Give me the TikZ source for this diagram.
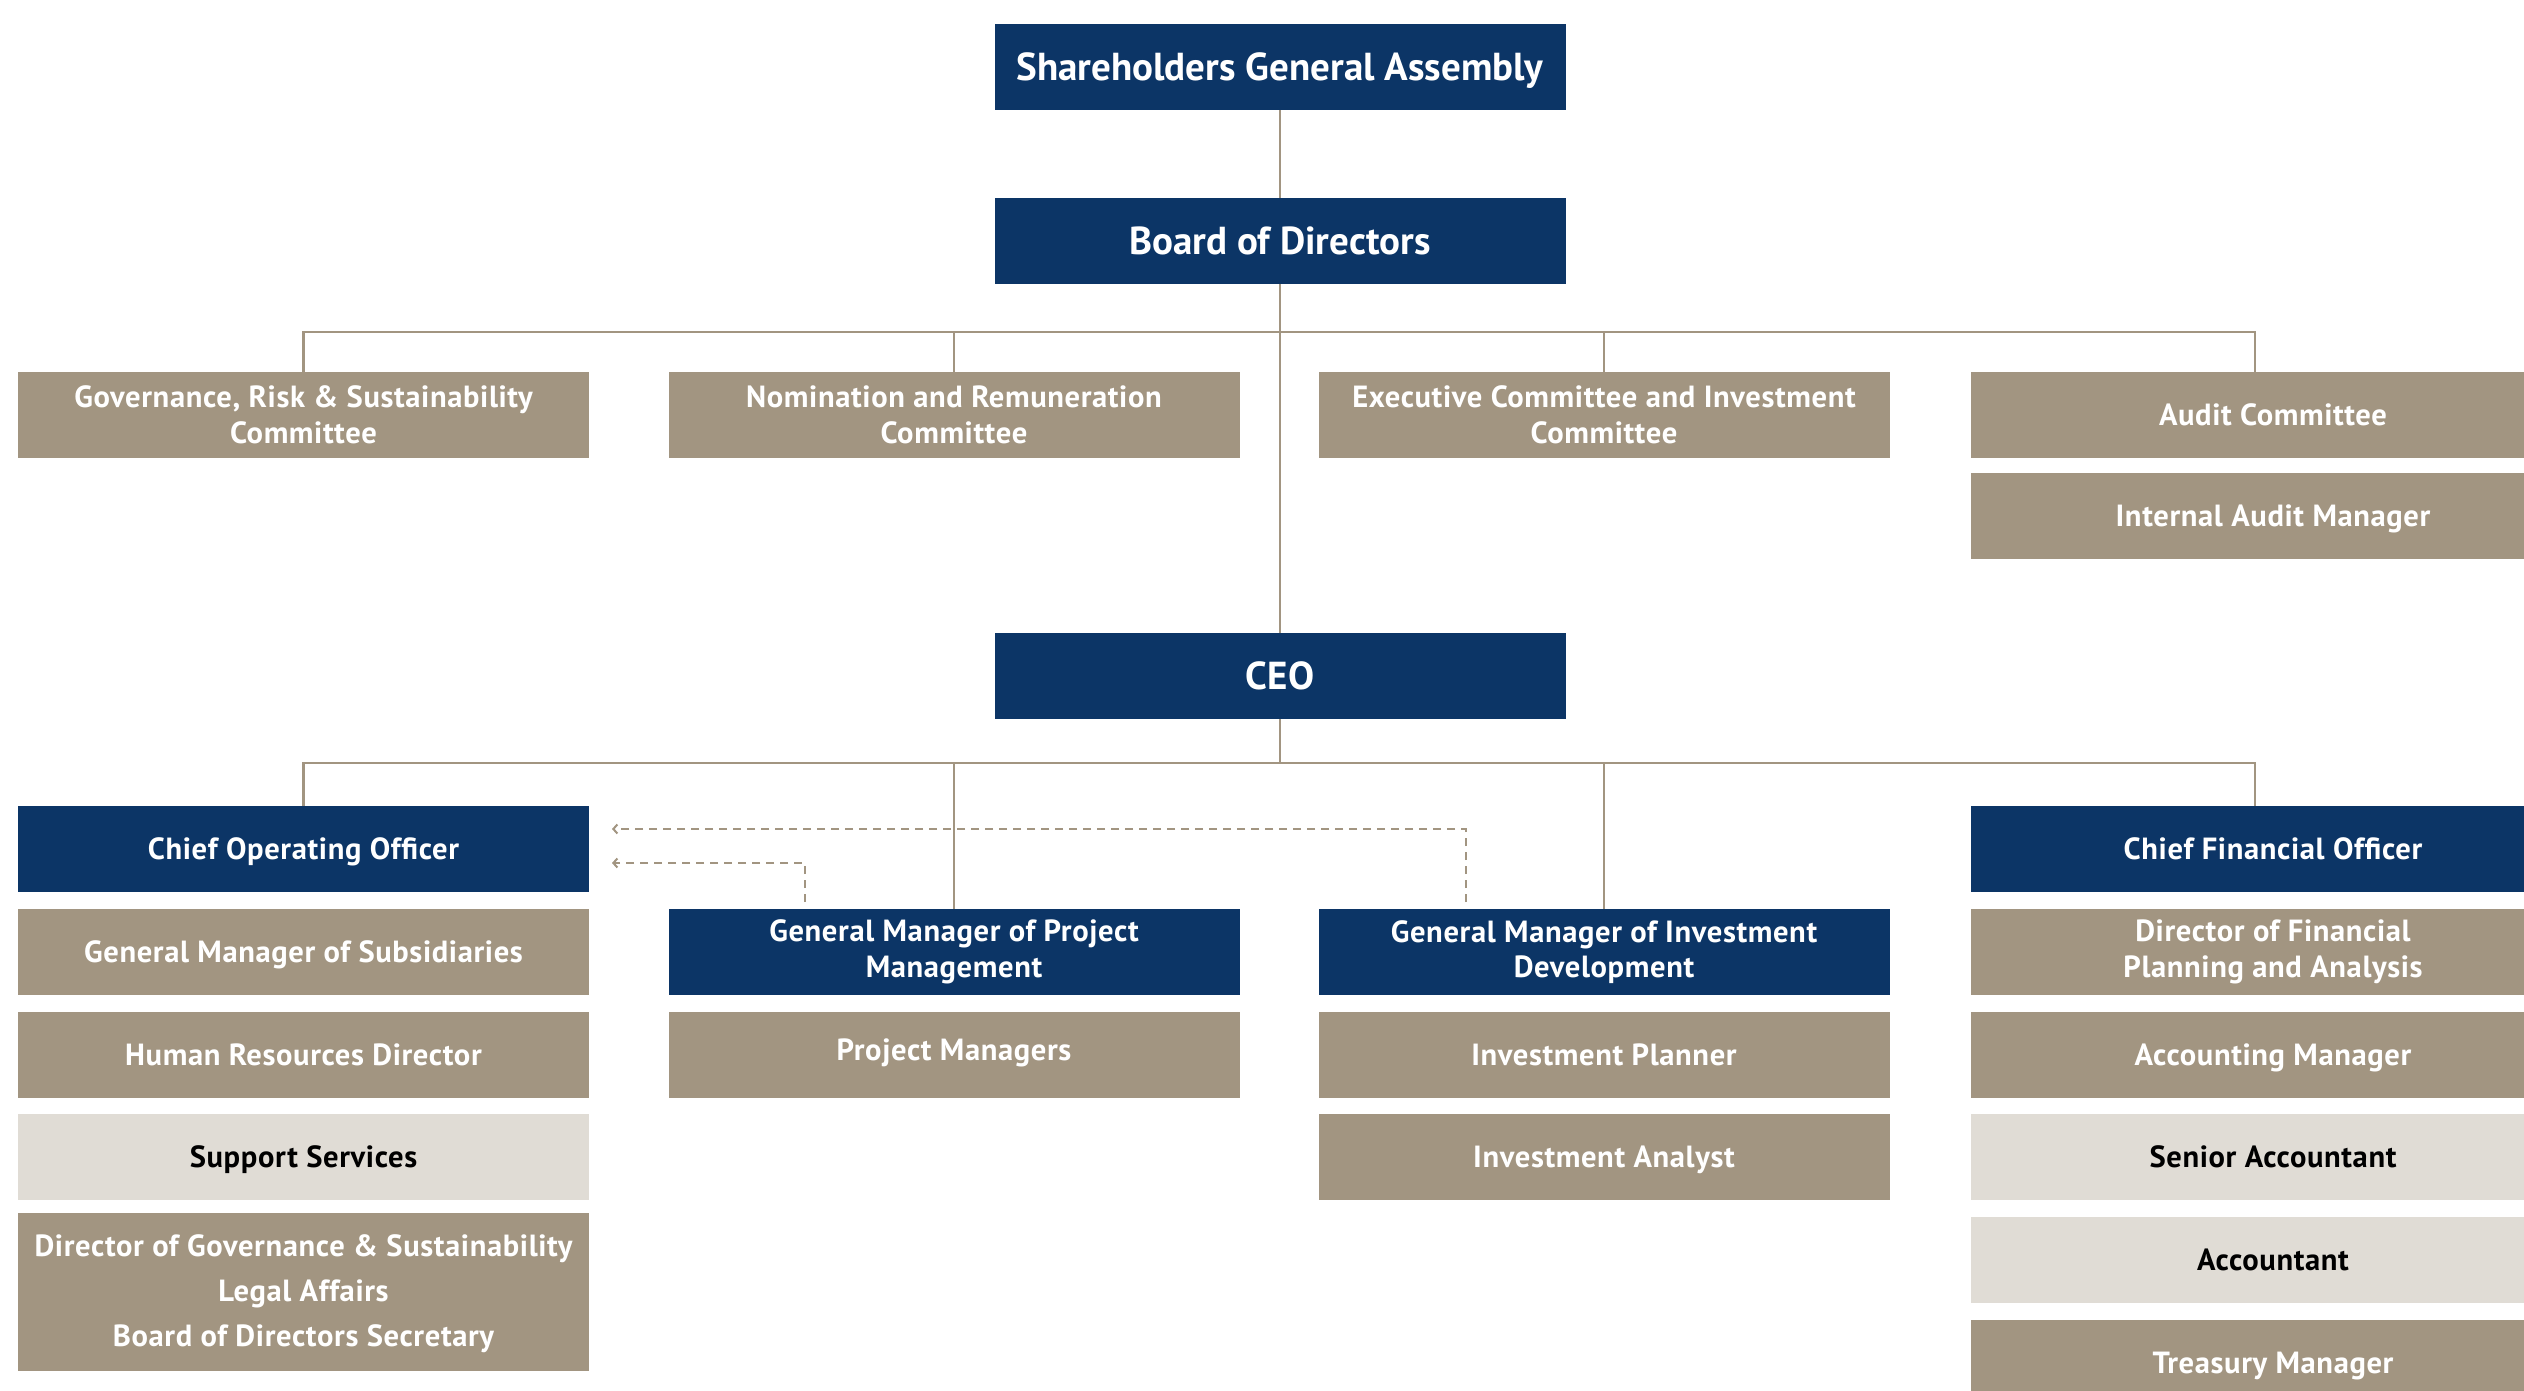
\documentclass[tikz,border=0pt]{standalone}
\usepackage{fontspec}
\setmainfont{PT Sans}
\newfontfamily\boxfont{PT Sans}[LetterSpace=2]
\usetikzlibrary{arrows.meta}
\definecolor{navyC}{HTML}{0C3566}
\definecolor{tanC}{HTML}{A29581}
\definecolor{paleC}{HTML}{E0DCD5}
\begin{document}
\begin{tikzpicture}[x=0.5pt,y=-0.5pt,
  box/.style={rectangle, minimum width=285.5pt, minimum height=43pt, inner sep=0pt,
    align=center, text=white, font=\boxfont\bfseries\fontsize{15.3}{17.8}\selectfont},
  one/.style={text height=10.7pt, text depth=0pt},
  wide/.style={minimum width=302pt},
  topbox/.style={box, one, fill=navyC, text height=13.6pt, font=\bfseries\fontsize{19.5}{22}\selectfont},
  leadbox/.style={box, fill=navyC},
  staffbox/.style={box, fill=tanC},
  palebox/.style={box, one, fill=paleC, text=black},
  link/.style={draw=tanC, line width=1.25pt},
  dlink/.style={draw=tanC, line width=1pt, dash pattern=on 4pt off 3pt,
    -{Straight Barb[length=2pt,width=4.5pt]}}]
\path[use as bounding box, clip] (0,0) rectangle (2524,1391);
\fill[white] (0,0) rectangle (2524,1391);

% top levels
\node[topbox] (sga) at (1280,67) {Shareholders General Assembly};
\node[topbox] (board) at (1280,241) {Board of Directors};
\node[topbox] (ceo) at (1280,676) {CEO};

% committees
\node[staffbox] (gov) at (303.5,415) {Governance, Risk \& Sustainability\\Committee};
\node[staffbox] (nom) at (954,415) {Nomination and Remuneration\\Committee};
\node[staffbox] (exec) at (1604,415) {Executive Committee and Investment\\Committee};
\node[staffbox, one, wide] (audit) at (2273,415) {Audit Committee};
\node[staffbox, one, wide] (iam) at (2273,516) {Internal Audit Manager};

% column 1
\node[leadbox, one] (coo) at (303.5,849) {Chief Operating Officer};
\node[staffbox, one] (gms) at (303.5,952) {General Manager of Subsidiaries};
\node[staffbox, one] (hrd) at (303.5,1054.5) {Human Resources Director};
\node[palebox] (sup) at (303.5,1157) {Support Services};
\node[staffbox, minimum height=79pt, font=\boxfont\bfseries\fontsize{15.3}{22.5}\selectfont] (dgs) at (303.5,1292)
  {\raisebox{-2pt}{\begin{tabular}{@{}c@{}}Director of Governance \& Sustainability\\Legal Affairs\\Board of Directors Secretary\end{tabular}}};

% column 2
\node[leadbox] (gmp) at (954,952) {General Manager of Project\\Management};
\node[staffbox, one, text depth=4.5pt] (pm) at (954,1054.5) {Project Managers};

% column 3
\node[leadbox] (gmi) at (1604,952) {General Manager of Investment\\Development};
\node[staffbox, one] (ip) at (1604,1054.5) {Investment Planner};
\node[staffbox, one] (ia) at (1604,1157) {Investment Analyst};

% column 4
\node[leadbox, one, wide] (cfo) at (2273,849) {Chief Financial Officer};
\node[staffbox, wide] (dfp) at (2273,952) {Director of Financial\\Planning and Analysis};
\node[staffbox, one, wide] (am) at (2273,1054.5) {Accounting Manager};
\node[palebox, wide] (sa) at (2273,1157) {Senior Accountant};
\node[palebox, wide] (acc) at (2273,1260) {Accountant};
\node[staffbox, one, wide] (tm) at (2273,1363) {Treasury Manager};

% solid connectors
\coordinate (cbus) at (1280,332);
\coordinate (ebus) at (1280,763);
\coordinate (c4) at (2255,0);
\draw[link] (sga) -- (board);
\draw[link] (board) -- (ceo);
\draw[link] (gov.north) |- (cbus) -| (c4 |- audit.north);
\draw[link] (nom.north) -- (nom.north |- cbus);
\draw[link] (exec.north) -- (exec.north |- cbus);
\draw[link] (ceo) -- (ebus);
\draw[link] (coo.north) |- (ebus) -| (c4 |- cfo.north);
\draw[link] (gmp.north) -- (gmp.north |- ebus);
\draw[link] (gmi.north) -- (gmi.north |- ebus);

% dashed (dotted-line) reporting to COO
\coordinate (s1) at (1466,902);
\coordinate (t1) at (612,829);
\coordinate (s2) at (805,902);
\coordinate (t2) at (612,863);
\draw[dlink] (s1) |- (t1);
\draw[dlink] (s2) |- (t2);
\end{tikzpicture}
\end{document}
